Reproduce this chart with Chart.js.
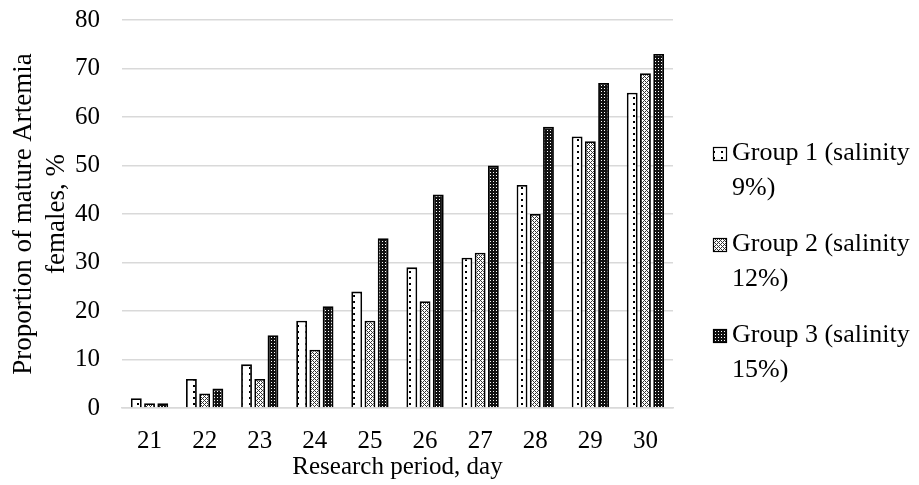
<!DOCTYPE html>
<html>
<head>
<meta charset="utf-8">
<script src="https://cdn.jsdelivr.net/npm/chart.js@4/dist/chart.umd.min.js"></script>
<style>
    body { margin: 0; background: #ffffff; }
    #wrap { width: 919px; height: 485px; }
</style>
</head>
<body>
<div id="wrap"><canvas id="artemiaChart"></canvas></div>
<script>
const days = ["21", "22", "23", "24", "25", "26", "27", "28", "29", "30"];
const group1 = [2, 6, 9, 18, 24, 29, 31, 46, 56, 65];
const group2 = [1, 3, 6, 12, 18, 22, 32, 40, 55, 69];
const group3 = [1, 4, 15, 21, 35, 44, 50, 58, 67, 73];
const seriesNames = [
    ["Group 1 (salinity", "9%)"],
    ["Group 2 (salinity", "12%)"],
    ["Group 3 (salinity", "15%)"]
];
const yTicks = [0, 10, 20, 30, 40, 50, 60, 70, 80];

const FONT = "'Liberation Serif', 'Times New Roman', serif";

function makePattern(kind) {
    const c = document.createElement("canvas");
    const ctx = c.getContext("2d");
    if (kind === 1) {
        c.width = 8; c.height = 6;
        ctx.fillStyle = "#ffffff";
        ctx.fillRect(0, 0, 8, 6);
        ctx.fillStyle = "#000000";
        ctx.fillRect(1, 1, 2, 2);
    } else if (kind === 2) {
        c.width = 4; c.height = 4;
        ctx.fillStyle = "#ffffff";
        ctx.fillRect(0, 0, 4, 4);
        ctx.fillStyle = "#333333";
        ctx.fillRect(0, 0, 1, 1);
        ctx.fillRect(2, 2, 1, 1);
        ctx.fillRect(1, 1, 1, 1);
        ctx.fillRect(3, 3, 1, 1);
        ctx.fillRect(3, 1, 1, 1);
        ctx.fillRect(1, 3, 1, 1);
    } else {
        c.width = 3; c.height = 3;
        ctx.fillStyle = "#111111";
        ctx.fillRect(0, 0, 3, 3);
        ctx.fillStyle = "#ffffff";
        ctx.fillRect(1, 1, 1, 1);
    }
    return document.createElement("canvas").getContext("2d").createPattern(c, "repeat");
}

const patterns = [makePattern(1), makePattern(2), makePattern(3)];

const sideLegend = {
    id: "sideLegend",
    afterDraw(chart) {
        const ctx = chart.ctx;
        const x = chart.chartArea.right + 40;
        const startY = 153;
        const step = 91;
        ctx.save();
        ctx.font = "26px " + FONT;
        ctx.textBaseline = "middle";
        ctx.textAlign = "left";
        seriesNames.forEach((lines, i) => {
            const y = startY + i * step;
            ctx.fillStyle = patterns[i];
            ctx.fillRect(x, y - 6, 14, 14);
            ctx.strokeStyle = "#000000";
            ctx.lineWidth = 1.2;
            ctx.strokeRect(x + 0.5, y - 5.5, 13, 13);
            ctx.fillStyle = "#000000";
            ctx.fillText(lines[0], x + 19, y);
            ctx.fillText(lines[1], x + 19, y + 35);
        });
        ctx.restore();
    }
};

new Chart(document.getElementById("artemiaChart"), {
    type: "bar",
    data: {
        labels: days,
        datasets: [group1, group2, group3].map((values, i) => ({
            label: seriesNames[i].join(" "),
            data: values,
            backgroundColor: patterns[i],
            borderColor: "#000000",
            borderWidth: 1.8,
            categoryPercentage: 0.72,
            barPercentage: 0.82
        }))
    },
    options: {
        responsive: true,
        maintainAspectRatio: false,
        animation: false,
        layout: { padding: { top: 20, right: 246, left: 0, bottom: 3 } },
        plugins: {
            legend: { display: false },
            tooltip: { enabled: false }
        },
        scales: {
            x: {
                afterFit(scale) {
                    scale.height = 74;
                    scale.paddingLeft = 0;
                    scale.paddingRight = 0;
                },
                grid: { display: false, drawTicks: false },
                border: { color: "#d9d9d9", width: 1.5 },
                ticks: { color: "#000000", font: { family: FONT, size: 25 }, padding: 18 },
                title: {
                    display: true,
                    text: "Research period, day",
                    color: "#000000",
                    font: { family: FONT, size: 25 },
                    padding: { top: 0, bottom: 0 }
                }
            },
            y: {
                min: 0,
                max: 80,
                afterBuildTicks(scale) {
                    scale.ticks = yTicks.map((v) => ({ value: v }));
                },
                afterFit(scale) {
                    scale.width = 122;
                    scale.paddingTop = 0;
                    scale.paddingBottom = 0;
                },
                grid: { color: "#d9d9d9", lineWidth: 1.5, drawTicks: false },
                border: { display: false },
                ticks: { color: "#000000", font: { family: FONT, size: 25 }, padding: 22 },
                title: {
                    display: true,
                    text: ["Proportion of mature Artemia", "females, %"],
                    color: "#000000",
                    font: { family: FONT, size: 27, lineHeight: 1.2 },
                    padding: { top: 8, bottom: 0 }
                }
            }
        }
    },
    plugins: [sideLegend]
});
</script>
</body>
</html>
